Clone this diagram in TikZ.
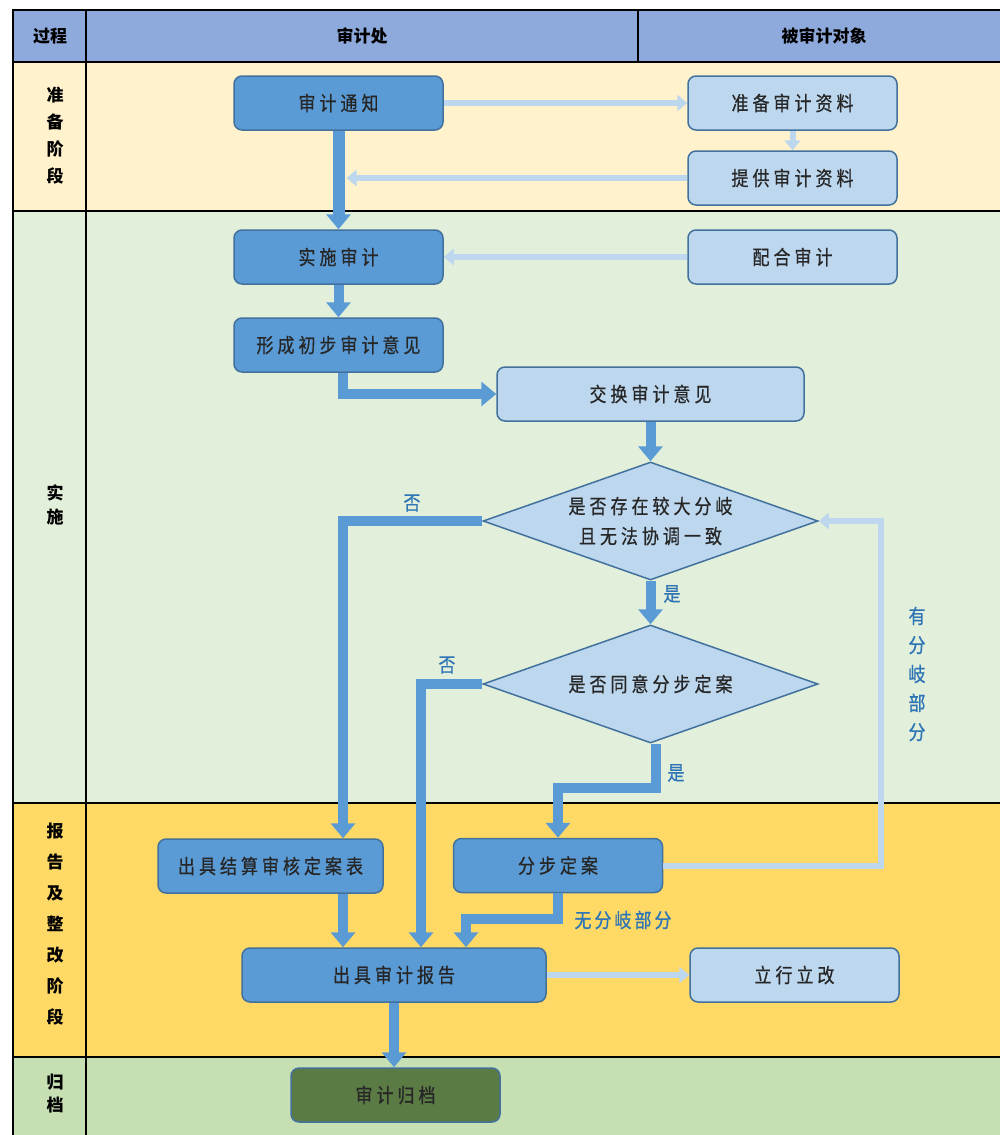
\documentclass[tikz,border=0pt]{standalone}
\usepackage{fontspec}
\usetikzlibrary{shapes.geometric,arrows.meta,calc}
\newfontfamily\cjk{Noto Sans CJK SC}
\newfontfamily\cjkls[LetterSpace=20,FakeStretch=0.85,FakeBold=0.6]{Noto Sans CJK SC}
\newfontfamily\cjklbl[FakeStretch=0.85,FakeBold=0.8]{Noto Sans CJK SC}
\newfontfamily\cjklblls[LetterSpace=15,FakeStretch=0.85,FakeBold=0.8]{Noto Sans CJK SC}
\definecolor{hdrc}{HTML}{8EA9DB}
\definecolor{prepc}{HTML}{FFF2CC}
\definecolor{implc}{HTML}{E2EFDA}
\definecolor{repc}{HTML}{FFD966}
\definecolor{archc}{HTML}{C6E0B4}
\definecolor{darkb}{HTML}{5B9BD5}
\definecolor{lightb}{HTML}{BDD7EE}
\definecolor{edgeb}{HTML}{41719C}
\definecolor{greenb}{HTML}{5B7B45}
\definecolor{lblc}{HTML}{2E75B6}
\begin{document}
\begin{tikzpicture}[x=1pt,y=-1pt,
  frame/.style={line width=1.3pt,black},
  hdrtxt/.style={font=\cjk\bfseries\fontsize{17}{20}\selectfont,text=black},
  stagetxt/.style={font=\cjk\bfseries\fontsize{17}{#1}\selectfont,align=center,text=black},
  boxbase/.style={rectangle,rounded corners=8pt,line width=1.5pt,draw=edgeb,
    minimum width=209pt,minimum height=54pt,inner sep=0pt,
    font=\cjkls\fontsize{20}{22}\selectfont,text=black!85},
  dbox/.style={boxbase,fill=darkb},
  lbox/.style={boxbase,fill=lightb},
  gbox/.style={boxbase,fill=greenb},
  dia/.style={diamond,aspect=2.84,minimum width=335pt,minimum height=118pt,
    inner sep=0pt,draw=edgeb,line width=1.5pt,fill=lightb,align=center,
    font=\cjkls\fontsize{20}{30}\selectfont,text=black!85},
  darr/.style={draw=darkb,line width=10pt,-{Triangle[width=24pt,length=15pt]}},
  larr/.style={draw=lightb,line width=6pt,-{Triangle[width=16pt,length=10pt]}},
  lbl/.style={font=\cjklbl\fontsize{20}{22}\selectfont,text=lblc}
]
\useasboundingbox (0,0) rectangle (1000,1135);
\fill[white] (0,0) rectangle (1000,1135);
% bands
\fill[hdrc] (13,10) rectangle (1000,62);
\fill[prepc] (13,62) rectangle (1000,211);
\fill[implc] (13,211) rectangle (1000,803);
\fill[repc] (13,803) rectangle (1000,1057);
\fill[archc] (13,1057) rectangle (1000,1135);
\draw[frame] (1000,10) -- (13,10) -- (13,1135);
\draw[frame] (86,10) -- (86,1135);
\draw[frame] (638,10) -- (638,62);
\foreach \yy in {62,211,803,1057} \draw[frame] (13,\yy) -- (1000,\yy);
% header
\node[hdrtxt] (h1) at (50,36) {过程};
\node[hdrtxt] (h2) at (362,36) {审计处};
\node[hdrtxt] (h3) at (824,36) {被审计对象};
% stage labels
\node[stagetxt=27] (s1) at (55,136) {准\\备\\阶\\段};
\node[stagetxt=24] (s2) at (55,505) {实\\施};
\node[stagetxt=31] (s3) at (55,924) {报\\告\\及\\整\\改\\阶\\段};
\node[stagetxt=23] (s4) at (55,1094) {归\\档};
% nodes
\node[dbox] (tz) at (338.5,103) {审计通知};
\node[lbox] (zb) at (792.5,103) {准备审计资料};
\node[lbox] (tg) at (792.5,178) {提供审计资料};
\node[dbox] (ss) at (338.5,257) {实施审计};
\node[lbox] (ph) at (792.5,257) {配合审计};
\node[dbox] (xc) at (338.5,345) {形成初步审计意见};
\node[lbox,minimum width=307pt] (jh) at (650.5,394) {交换审计意见};
\node[dia] (d1) at (650.5,521) {是否存在较大分岐\\且无法协调一致};
\node[dia] (d2) at (650.5,684) {是否同意分步定案};
\node[dbox,minimum width=225pt] (js) at (270.5,866) {出具结算审核定案表};
\node[dbox] (fb) at (558,865.5) {分步定案};
\node[dbox,minimum width=304pt] (bg) at (394,975) {出具审计报告};
\node[lbox] (lx) at (794.5,975) {立行立改};
\node[gbox] (gd) at (395.5,1095) {审计归档};
% dark connectors
\draw[darr,line width=12pt] (tz.south) -- (ss.north);
\draw[darr] (ss.south) -- (xc.north);
\draw[darr] ([xshift=4pt]xc.south) |- (jh.west);
\draw[darr] (jh.south) -- (d1.north);
\draw[darr] (d1.west) -| ([xshift=72.5pt]js.north);
\draw[darr] (d1.south) -- (d2.north);
\draw[darr] (d2.west) -| ([xshift=27pt]bg.north);
\draw[darr] ([xshift=5pt]d2.south) -- ++(0,44) -| (fb.north);
\draw[darr] (fb.south) -- ++(0,26) -| ([xshift=72pt]bg.north);
\draw[darr] ([xshift=72.5pt]js.south) -- ([xshift=72.5pt]js.south |- bg.north);
\draw[darr] (bg.south) -- (bg.south |- gd.north);
% light connectors
\draw[larr] (tz.east) -- (zb.west);
\draw[larr] (zb.south) -- (tg.north);
\coordinate (tgend) at ([xshift=8pt]tg.west -| tz.south);
\draw[larr] (tg.west) -- (tgend);
\draw[larr] (ph.west) -- (ss.east);
\draw[larr] (bg.east) -- (lx.west);
\draw[larr] (fb.east) -- ++(218,0) |- (d1.east);
% labels
\node[lbl] (n1) at (412,503) {否};
\node[lbl] (y1) at (672,594) {是};
\node[lbl] (n2) at (447,665) {否};
\node[lbl] (y2) at (676,773) {是};
\node[lbl,font=\cjklblls\fontsize{20}{22}\selectfont] (wf) at (623,920) {无分岐部分};
\node[lbl,align=center,font=\cjklbl\fontsize{20}{29}\selectfont] (yf) at (917,674) {有\\分\\岐\\部\\分};
\end{tikzpicture}
\end{document}
